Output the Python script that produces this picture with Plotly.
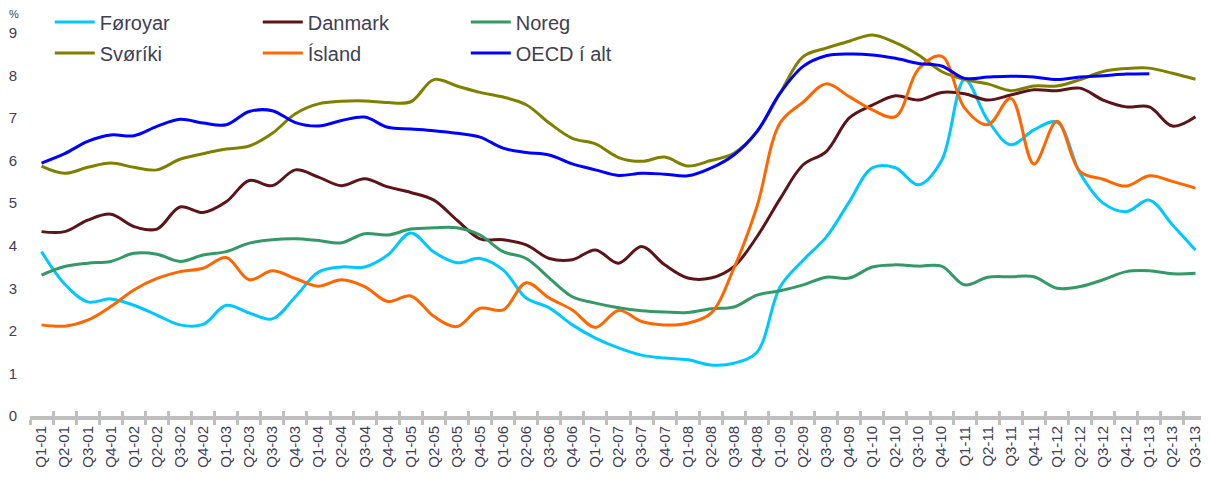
import plotly.graph_objects as go

quarters = [f"Q{q}-{y:02d}" for y in range(1, 14) for q in range(1, 5)][:51]

foroyar = [3.86, 3.1, 2.68, 2.75, 2.6, 2.37, 2.14, 2.15, 2.6, 2.42, 2.28, 2.8, 3.38, 3.5, 3.5, 3.78, 4.3,
           3.85, 3.6, 3.7, 3.43, 2.77, 2.54, 2.14, 1.83, 1.6, 1.43, 1.36, 1.32, 1.2, 1.24, 1.5, 3.03,
           3.66, 4.2, 5.03, 5.83, 5.83, 5.43, 6.0, 7.9, 6.95, 6.37, 6.72, 6.9, 5.7, 5.0, 4.8, 5.07, 4.49, 3.9]
danmark = [4.33, 4.33, 4.6, 4.74, 4.45, 4.39, 4.91, 4.78, 5.03, 5.53, 5.41, 5.78, 5.61, 5.41, 5.57, 5.38,
           5.25, 5.07, 4.6, 4.16, 4.14, 4.02, 3.7, 3.67, 3.9, 3.59, 3.98, 3.55, 3.24, 3.24, 3.51, 4.21,
           5.1, 5.9, 6.21, 7.0, 7.3, 7.52, 7.42, 7.6, 7.57, 7.42, 7.54, 7.66, 7.64, 7.7, 7.42, 7.26, 7.26, 6.81, 7.03]
noreg = [3.31, 3.51, 3.59, 3.63, 3.82, 3.8, 3.63, 3.78, 3.86, 4.06, 4.14, 4.16, 4.12, 4.07, 4.28, 4.25,
         4.39, 4.42, 4.42, 4.25, 3.86, 3.7, 3.24, 2.8, 2.65, 2.54, 2.47, 2.44, 2.43, 2.52, 2.56, 2.84,
         2.94, 3.08, 3.26, 3.24, 3.5, 3.55, 3.52, 3.52, 3.08, 3.26, 3.27, 3.27, 3.0, 3.04, 3.2, 3.39, 3.41, 3.34, 3.35]
sveriki = [5.87, 5.7, 5.84, 5.94, 5.84, 5.78, 6.03, 6.16, 6.27, 6.34, 6.64, 7.1, 7.33, 7.39, 7.4, 7.36,
           7.38, 7.9, 7.75, 7.6, 7.49, 7.31, 6.88, 6.52, 6.39, 6.07, 5.98, 6.08, 5.87, 6.0, 6.17, 6.68,
           7.58, 8.44, 8.64, 8.8, 8.95, 8.77, 8.48, 8.09, 7.9, 7.8, 7.64, 7.75, 7.75, 7.9, 8.09, 8.16, 8.17, 8.05, 7.91]
island = [2.14, 2.11, 2.25, 2.57, 2.96, 3.23, 3.39, 3.47, 3.72, 3.2, 3.41, 3.23, 3.05, 3.2, 3.04, 2.69,
          2.82, 2.34, 2.1, 2.53, 2.49, 3.13, 2.77, 2.49, 2.08, 2.48, 2.22, 2.14, 2.18, 2.41, 3.47, 4.92,
          6.88, 7.37, 7.8, 7.5, 7.19, 7.03, 8.15, 8.45, 7.23, 6.84, 7.46, 5.92, 6.92, 5.74, 5.56, 5.4, 5.64, 5.51, 5.35]
oecd = [5.94, 6.16, 6.45, 6.6, 6.58, 6.8, 6.97, 6.88, 6.84, 7.15, 7.17, 6.89, 6.81, 6.94, 7.02, 6.78,
        6.74, 6.7, 6.64, 6.55, 6.29, 6.19, 6.13, 5.92, 5.78, 5.65, 5.7, 5.68, 5.64, 5.82, 6.13, 6.68,
        7.58, 8.21, 8.46, 8.5, 8.48, 8.4, 8.28, 8.22, 7.93, 7.96, 7.98, 7.96, 7.9, 7.96, 7.99, 8.03, 8.04, None, None]

series = [
    ("Føroyar", foroyar, "#00c8ff", "legend"),
    ("Danmark", danmark, "#5c1418", "legend"),
    ("Noreg", noreg, "#339966", "legend"),
    ("Svøríki", sveriki, "#808000", "legend2"),
    ("Ísland", island, "#ff6600", "legend2"),
    ("OECD í alt", oecd, "#0000ff", "legend2"),
]

FONT = "Liberation Sans, Arial, sans-serif"
TXT = "#404055"
AXIS = "#bfbfbf"

# page body adds an 8px margin, so the figure is sized to fit the remaining window
W, H = 1201, 471
L, R, T, B = 22, 2, 12, 63
PW, PH = W - L - R, H - T - B

fig = go.Figure()
# helper trace so the upper half of the crossing tick marks can be drawn on a twin axis
fig.add_trace(go.Scatter(x=quarters, y=[None] * len(quarters), xaxis="x2", mode="lines",
                         showlegend=False, hoverinfo="skip"))
for name, vals, color, lg in series:
    fig.add_trace(go.Scatter(
        x=quarters, y=vals, name=name, mode="lines",
        line=dict(color=color, width=3, shape="spline", smoothing=1.0),
        connectgaps=False, legend=lg,
    ))

legend_common = dict(
    orientation="h", xref="paper", yref="container", xanchor="left", yanchor="middle",
    font=dict(family=FONT, size=20, color=TXT), bgcolor="rgba(0,0,0,0)",
    entrywidth=153, entrywidthmode="pixels", itemwidth=40, tracegroupgap=0,
)

fig.update_layout(
    width=W, height=H,
    margin=dict(l=L, r=R, t=T, b=B, autoexpand=False),
    paper_bgcolor="white", plot_bgcolor="white",
    font=dict(family=FONT, color=TXT),
    legend=dict(**legend_common, x=0.01 + 8 / PW, y=1 - 14 / H),
    legend2=dict(**legend_common, x=0.01 + 8 / PW, y=1 - 45 / H),
    xaxis=dict(
        type="category", range=[-0.5, 50.5],
        showline=True, linecolor=AXIS, linewidth=4,
        ticks="outside", tickson="boundaries", ticklen=5, tickwidth=3, tickcolor=AXIS,
        tickangle=-90, tickfont=dict(family=FONT, size=15, color=TXT),
        showgrid=False, zeroline=False, layer="below traces",
    ),
    xaxis2=dict(
        type="category", range=[-0.5, 50.5], overlaying="x", anchor="y", side="bottom",
        showline=False, ticks="inside", tickson="boundaries", ticklen=5, tickwidth=3,
        tickcolor=AXIS, showticklabels=False, showgrid=False, zeroline=False,
        layer="below traces",
    ),
    yaxis=dict(
        range=[0, 9.3], tickvals=list(range(10)),
        showline=False, showgrid=False, zeroline=False,
        tickfont=dict(family=FONT, size=15, color=TXT), ticks="", ticklabelstandoff=12,
    ),
    annotations=[dict(
        text="%", xref="paper", yref="paper",
        x=-16 / PW, y=1 + 6 / PH, xanchor="center", yanchor="middle", showarrow=False,
        font=dict(family=FONT, size=11, color=TXT),
    )],
)

fig.write_html("out.html")
